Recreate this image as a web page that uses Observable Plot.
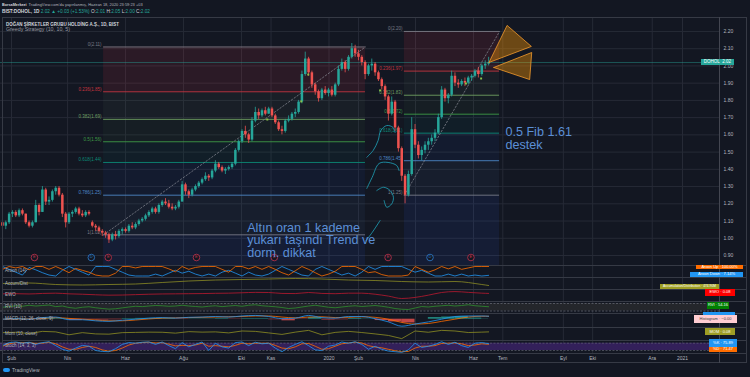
<!DOCTYPE html>
<html>
<head>
<meta charset="utf-8">
<script src="https://cdn.jsdelivr.net/npm/d3@7"></script>
<script src="https://cdn.jsdelivr.net/npm/@observablehq/plot@0.6"></script>
<style>
html,body{margin:0;padding:0;background:#131722;}
#root{position:relative;width:750px;height:377px;overflow:hidden;background:#131722;font-family:"Liberation Sans",Arial,sans-serif;}
#root svg{position:absolute;left:0;overflow:visible;}
.t{position:absolute;white-space:nowrap;line-height:1;}
</style>
</head>
<body>
<div id="root"></div>
<script>
// ---------- DATA ----------
const tickDates = ["2019-02-01","2019-04-01","2019-06-01","2019-08-01","2019-10-01","2019-11-01","2020-01-01","2020-02-01","2020-04-01","2020-06-01","2020-07-01","2020-09-01","2020-10-01","2020-12-01","2021-01-01"];
const tickLabels = ["Şub","Nis","Haz","Ağu","Eki","Kas","2020","Şub","Nis","Haz","Tem","Eyl","Eki","Ara","2021"];
const priceTicks = [0.9,1.0,1.1,1.2,1.3,1.4,1.5,1.6,1.7,1.8,1.9,2.0,2.1,2.2];

// half-week candles, Jan 2019 .. 18 Jun 2020
const opens = [1.09,1.07,1.09,1.14,1.15,1.13,1.16,1.14,1.09,1.07, 1.09,1.19,1.15,1.28,1.21,1.22,1.27,1.29,1.25,1.14,
 1.09,1.14,1.15,1.17,1.14,1.13,1.15,1.09,1.07,1.06, 1.04,1.03,1.02,0.99,1.02,1.01,1.04,1.05,1.04,1.07,
 1.06,1.08,1.10,1.11,1.13,1.15,1.17,1.15,1.19,1.21, 1.20,1.18,1.17,1.18,1.21,1.31,1.27,1.25,1.28,1.30,
 1.32,1.34,1.36,1.35,1.39,1.43,1.41,1.39,1.40,1.41, 1.43,1.51,1.56,1.62,1.60,1.57,1.68,1.73,1.71,1.74,
 1.72,1.75,1.71,1.67,1.63,1.62,1.68,1.69,1.72,1.73, 1.79,1.95,2.04,1.96,1.89,1.85,1.81,1.86,1.84,1.86,
 1.83,1.89,1.98,2.02,1.98,2.05,2.10,2.07,2.05,2.02, 1.95,2.00,2.01,1.96,1.92,1.88,1.82,1.72,1.79,1.64,
 1.52,1.36,1.25,1.37,1.63,1.54,1.48,1.51,1.54,1.56, 1.58,1.61,1.70,1.86,1.81,1.83,1.94,1.90,1.89,1.91,
 1.90,1.93,1.94,1.97,1.95,2.00,2.01];
const highs = [1.11,1.10,1.15,1.16,1.16,1.17,1.17,1.14,1.10,1.10, 1.22,1.20,1.30,1.29,1.24,1.28,1.30,1.30,1.26,1.15,
 1.15,1.16,1.18,1.18,1.16,1.16,1.16,1.10,1.08,1.07, 1.05,1.04,1.03,1.03,1.04,1.05,1.06,1.06,1.08,1.09,
 1.09,1.11,1.12,1.14,1.16,1.18,1.18,1.20,1.22,1.23, 1.22,1.20,1.19,1.22,1.33,1.32,1.28,1.29,1.31,1.33,
 1.35,1.38,1.37,1.40,1.45,1.44,1.42,1.41,1.42,1.44, 1.52,1.57,1.63,1.65,1.61,1.70,1.76,1.75,1.75,1.76,
 1.76,1.76,1.72,1.68,1.65,1.69,1.71,1.73,1.75,1.80, 1.97,2.08,2.05,1.97,1.90,1.86,1.87,1.88,1.87,1.88,
 1.90,2.00,2.04,2.03,2.06,2.13,2.12,2.09,2.06,2.03, 2.01,2.04,2.02,1.97,1.93,1.89,1.83,1.82,1.80,1.65,
 1.53,1.37,1.39,1.70,1.66,1.56,1.53,1.56,1.58,1.60, 1.63,1.72,1.88,1.87,1.84,1.97,1.96,1.92,1.92,1.93,
 1.94,1.95,1.98,1.99,2.01,2.03,2.05];
const lows = [1.05,1.05,1.08,1.12,1.12,1.12,1.13,1.08,1.06,1.06, 1.09,1.13,1.15,1.19,1.19,1.21,1.25,1.24,1.12,1.06,
 1.08,1.12,1.14,1.13,1.12,1.12,1.13,1.06,1.04,1.03, 1.01,1.00,0.97,0.98,0.99,1.00,1.02,1.03,1.03,1.05,
 1.05,1.07,1.09,1.10,1.12,1.14,1.14,1.14,1.18,1.19, 1.17,1.16,1.16,1.17,1.21,1.25,1.23,1.24,1.27,1.29,
 1.31,1.33,1.33,1.34,1.38,1.40,1.38,1.37,1.39,1.40, 1.42,1.50,1.55,1.58,1.55,1.56,1.67,1.69,1.70,1.71,
 1.72,1.70,1.66,1.62,1.60,1.61,1.67,1.68,1.70,1.72, 1.78,1.94,1.94,1.87,1.83,1.79,1.80,1.83,1.82,1.82,
 1.82,1.88,1.97,1.96,1.97,2.04,2.05,2.03,2.00,1.92, 1.94,1.97,1.94,1.91,1.86,1.80,1.68,1.71,1.62,1.50,
 1.33,1.20,1.24,1.36,1.52,1.46,1.45,1.49,1.51,1.54, 1.56,1.60,1.69,1.79,1.78,1.82,1.88,1.87,1.88,1.88,
 1.89,1.91,1.93,1.93,1.94,1.98,2.00];
const closes = [1.07,1.09,1.14,1.15,1.13,1.16,1.14,1.09,1.07,1.09, 1.19,1.15,1.28,1.21,1.22,1.27,1.29,1.25,1.14,1.09,
 1.14,1.15,1.17,1.14,1.13,1.15,1.14,1.07,1.06,1.04, 1.03,1.02,0.99,1.02,1.01,1.04,1.05,1.04,1.07,1.06,
 1.08,1.10,1.11,1.13,1.15,1.17,1.15,1.19,1.21,1.20, 1.18,1.17,1.18,1.21,1.31,1.27,1.25,1.28,1.30,1.32,
 1.34,1.36,1.35,1.39,1.43,1.41,1.39,1.40,1.41,1.43, 1.51,1.56,1.62,1.60,1.57,1.68,1.73,1.71,1.74,1.72,
 1.75,1.71,1.67,1.63,1.62,1.68,1.69,1.72,1.73,1.79, 1.95,2.04,1.96,1.89,1.85,1.81,1.86,1.84,1.86,1.83,
 1.89,1.98,2.02,1.98,2.05,2.10,2.07,2.05,2.02,1.95, 2.00,2.01,1.96,1.92,1.88,1.82,1.72,1.79,1.64,1.52,
 1.36,1.25,1.37,1.63,1.54,1.48,1.51,1.54,1.56,1.58, 1.61,1.70,1.86,1.81,1.83,1.94,1.90,1.89,1.91,1.90,
 1.93,1.94,1.97,1.95,2.00,2.01,2.02];

// Fibonacci retracements
const fibRatios = [0, 0.236, 0.382, 0.5, 0.618, 0.786, 1];
const fib1Prices = [2.11, 1.85, 1.69, 1.56, 1.44, 1.25, 1.02];
const fib2Prices = [2.20, 1.97, 1.83, 1.72, 1.61, 1.45, 1.25];
const fib1Bars = [30.4, 109.1];
const fib2Bars = [120.8, 149.2];

// drawings (bar index, price)
const tri1 = [[146.1,2.02],[151.4,2.235],[158.5,2.113]];
const tri2 = [[147.5,1.991],[158.6,2.078],[158.0,1.921]];
const brushCurves = [
  [[109.5,1.470],[111.4,1.509],[112.9,1.567],[113.7,1.625],[115.5,1.654],[117.4,1.643],[118.0,1.614]],
  [[109.5,1.289],[111.1,1.353],[113.2,1.434],[115.9,1.440],[118.5,1.422],[119.2,1.393]],
  [[112.5,1.277],[114.5,1.296],[116.5,1.277],[117.5,1.238],[117.0,1.200],[115.5,1.180],[114.7,1.219]],
  [[109.3,0.987],[111.1,1.033],[113.5,1.103]]
];
const signalBars = [79.6, 89.8, 91.9, 113.5, 139.3, 143.8];
const signalPrices = [1.689, 1.794, 1.950, 1.858, 1.898, 1.927];
const eventBars = [9.6, 26.7, 31.8, 58.3, 81.7, 115.9, 128.5, 140.8];
const eventKinds = ["E","D","E","E","E","E","D","E"];
const notes = [
  {b: 73.55, p: 1.090, text: "Altın oran 1 kademe\nyukarı taşındı Trend ve\ndorm. dikkat"},
  {b: 150.9, p: 1.643, text: "0.5 Fib 1.61\ndestek"}
];
const lastPrice = 2.02;

// indicators
const aroonUp = [70,100,85,100,65,100,100,70,100,70, 35,80,60,40,10,0,0,30,100,100,
 85,100,100,100,100,75,45,100,70,90, 100,100,100,70,40,100,100,75,100,70,
 100,70,35,10,55,100,70,35,0,20, 50,100,100,100,70,35,45,15,0,0,
 0,10,100,70,40,65,100,75,100,70, 85,100,100,100];
const aroonDown = [100,70,40,10,90,65,35,10,0,60, 100,70,40,10,100,100,100,70,40,10,
 0,0,0,20,0,30,60,30,50,20, 0,20,0,40,60,30,0,40,10,0,
 20,60,100,70,40,10,0,70,100,70, 40,10,30,0,40,100,70,100,100,100,
 100,70,40,60,30,0,0,20,0,20, 0,10,0,7];
const accDist = [420,430,400,390,400,410,440,470,490,500,510,520,510,490,480,460,450,460,400,380];
const ewo = [0.05,0.06,0.04,0.08,0.10,0.05,0.02,-0.02,-0.05,-0.04, -0.01,0.02,0.04,0.05,0.06,0.07,0.09,0.10,0.13,0.16,
 0.15,0.08,0.07,0.15,0.08,0.06,0.10,0.10,0.02,-0.12, -0.30,-0.22,-0.05,0.15,0.22,0.16,0.10,0.08];
const rvi = [50,55,62,58,66,60,64,68,55,60, 48,42,50,54,46,40,35,38,45,52, 58,55,60,64,62,58,60,66,60,56,
 52,58,62,55,60,64,58,66,70,62, 58,54,48,40,44,52,60,66,58,50, 46,52,58,62,56,60,64,58,50,40,
 34,32,44,56,52,58,62,66,60,64, 70,62,58,54];
const macdLine = [0.00,0.01,0.00,0.03,0.04,-0.01,-0.01,-0.03,-0.04,-0.02, 0.00,0.02,0.03,0.02,0.035,0.04,0.05,0.04,0.06,0.07,
 0.05,0.01,0.02,0.07,0.03,0.02,0.05,0.05,0.01,-0.05, -0.13,-0.09,-0.05,0.00,0.05,0.06,0.06,0.055];
const macdSignal = [0.00,0.005,0.005,0.015,0.03,0.015,0.00,-0.015,-0.03,-0.03, -0.015,0.005,0.02,0.025,0.03,0.035,0.04,0.045,0.05,0.06,
 0.06,0.04,0.025,0.04,0.045,0.03,0.035,0.045,0.035,0.00, -0.06,-0.09,-0.08,-0.04,0.00,0.04,0.055,0.055];
const macdHist = [0,0.005,-0.005,0.015,0.01,-0.025,-0.01,-0.015,-0.01,0.01, 0.015,0.015,0.01,-0.005,0.005,0.005,0.01,-0.005,0.01,0.01,
 -0.01,-0.03,-0.005,0.03,-0.015,-0.01,0.015,0.005,-0.025,-0.05, -0.07,0,0.03,0.04,0.05,0.02,0.005,0];
const mom = [0.02,0.05,-0.05,0.12,0.08,-0.15,0.02,-0.08,-0.10,0.02, 0.04,0.06,0.05,-0.02,0.10,0.06,0.08,0.00,0.15,0.12,
 0.00,-0.12,0.06,0.20,-0.15,0.04,0.12,0.03,-0.08,-0.20, -0.45,0.15,0.05,0.20,0.15,0.03,0.06,0.08];
const stochK = [60,85,90,80,88,70,85,92,60,30, 15,40,62,55,20,12,10,35,70,85, 80,88,90,70,90,60,35,85,50,70,
 90,20,80,50,40,85,90,60,88,75, 80,40,10,45,70,92,60,25,20,55, 65,90,80,92,70,30,55,30,15,10,
 5,25,80,45,55,70,92,70,88,60, 45,80,85,76];
const stochD = [55,75,85,85,85,78,80,88,75,50, 30,30,45,55,45,25,14,20,40,65, 80,85,88,82,84,72,58,62,60,65,
 80,55,60,55,50,62,80,75,80,80, 80,62,40,35,50,75,78,55,30,35, 55,75,82,88,82,60,48,42,30,18,
 10,12,40,55,55,60,78,80,82,75, 60,65,75,71];

// ---------- HELPERS ----------
const root = document.getElementById("root");
const FONT = '"Liberation Sans",Arial,sans-serif';
const T0 = Date.UTC(2019,0,22,12);
const barDate = b => new Date(T0 + b*3.5*864e5);
const tickD = tickDates.map(s => new Date(s));
const xOpts = () => ({type:"utc", domain:[new Date("2019-02-01"), new Date("2020-06-01"), new Date("2021-01-01")], range:[11,473,682], axis:null});
const UP = "#26a69a", DN = "#ef5350", GRID = "#262a36";
const s2 = d3.range(0, 147, 2);
const s4 = d3.range(0, 145, 4).concat([146]);
const s8 = d3.range(0, 145, 8).concat([146]);

function place(svg, top){ svg.style.top = top + "px"; root.appendChild(svg); return svg; }
function div(html, css){ const d = document.createElement("div"); d.className = "t"; d.innerHTML = html; d.style.cssText += css; root.appendChild(d); return d; }

// ---------- MAIN PRICE PANE ----------
const bars = closes.map((c,i)=>({d: barDate(i), o: opens[i], h: highs[i], l: lows[i], c}));
const upBars = bars.filter(b => b.c >= b.o), dnBars = bars.filter(b => b.c < b.o);
const lineColors = ["#787b86","#c4343f","#6f9f62","#3f9a46","#0b8a76","#4d86c6","#787b86"];
const bandColors = ["rgba(242,54,69,0.11)","rgba(129,199,132,0.05)","rgba(76,175,80,0.05)","rgba(8,153,129,0.06)","rgba(41,98,255,0.06)","rgba(100,181,246,0.05)"];
const extColor = "rgba(41,98,255,0.09)";
const yDomain = [0.842, 2.281];
function fibLevels(prices, span){ return prices.map((p,k)=>({x1: barDate(span[0]), x2: barDate(span[1]), p, color: lineColors[k], label: `${fibRatios[k]}(${p.toFixed(2)})`})); }
function fibBands(prices, span){
  const out = [];
  for (let k = 0; k < 6; k++) out.push({x1: barDate(span[0]), x2: barDate(span[1]), y1: prices[k], y2: prices[k+1], fill: bandColors[k]});
  out.push({x1: barDate(span[0]), x2: barDate(span[1]), y1: prices[6], y2: yDomain[0], fill: extColor});
  return out;
}
const levels = fibLevels(fib1Prices, fib1Bars).concat(fibLevels(fib2Prices, fib2Bars));
const bands = fibBands(fib1Prices, fib1Bars).concat(fibBands(fib2Prices, fib2Bars));
const trends = [
  {id:1, d: barDate(fib1Bars[0]), p: fib1Prices[6]}, {id:1, d: barDate(fib1Bars[1]), p: fib1Prices[0]},
  {id:2, d: barDate(fib2Bars[0]), p: fib2Prices[6]}, {id:2, d: barDate(fib2Bars[1]), p: fib2Prices[0]}
];
const tris = [];
[tri1, tri2].forEach((t,j)=> t.concat([t[0]]).forEach(([b,p]) => tris.push({id:j, d: barDate(b), p})));
const curves = [];
brushCurves.forEach((c,j)=> c.forEach(([b,p]) => curves.push({id:j, d: barDate(b), p})));
const signals = signalBars.map((b,i)=>({d: barDate(b), p: signalPrices[i]}));
const events = eventBars.map((b,i)=>({d: barDate(b), k: eventKinds[i], color: eventKinds[i]==="E" ? "#c2344e" : "#2f7fd0"}));

const main = Plot.plot({
  width: 750, height: 248, marginLeft: 0, marginRight: 31, marginTop: 0, marginBottom: 0,
  style: {background: "transparent", fontFamily: FONT, overflow: "visible"},
  x: xOpts(), y: {domain: yDomain, axis: null}, color: {type: "identity"},
  marks: [
    Plot.ruleX(tickD, {stroke: GRID}),
    Plot.ruleY(priceTicks, {stroke: GRID}),
    Plot.rect(bands, {x1: "x1", x2: "x2", y1: "y1", y2: "y2", fill: "fill"}),
    Plot.ruleY(levels, {x1: "x1", x2: "x2", y: "p", stroke: "color", strokeWidth: 0.9}),
    Plot.text(levels, {x: "x1", y: "p", text: "label", textAnchor: "end", dx: -2, dy: -2.5, fill: "color", fontSize: 4.5}),
    Plot.ruleY([lastPrice], {stroke: "#26a69a", strokeOpacity: 0.55, strokeWidth: 0.8}),
    Plot.line(trends, {x: "d", y: "p", z: "id", stroke: "#8a8d96", strokeDasharray: "1.5,2", strokeWidth: 0.7}),
    Plot.ruleX(upBars, {x: "d", y1: "l", y2: "h", stroke: UP, strokeWidth: 0.8}),
    Plot.ruleX(dnBars, {x: "d", y1: "l", y2: "h", stroke: DN, strokeWidth: 0.8}),
    Plot.ruleX(upBars, {x: "d", y1: "o", y2: "c", stroke: UP, strokeWidth: 2.5}),
    Plot.ruleX(dnBars, {x: "d", y1: "o", y2: "c", stroke: DN, strokeWidth: 2.5}),
    Plot.dot(signals, {x: "d", y: "p", symbol: "square", r: 1.1, fill: "#8bc34a"}),
    Plot.dot(events, {x: "d", frameAnchor: "bottom", dy: -8, r: 3.3, stroke: "color", fill: "#131722", strokeWidth: 0.8}),
    Plot.text(events, {x: "d", frameAnchor: "bottom", dy: -8, text: "k", fill: "color", fontSize: 4}),
    Plot.line(tris, {x: "d", y: "p", z: "id", fill: "rgba(255,152,0,0.38)", stroke: "#f39a2c", strokeWidth: 0.8}),
    Plot.line(curves, {x: "d", y: "p", z: "id", curve: "catmull-rom", stroke: "#1fa6bd", strokeWidth: 0.8}),
    Plot.text(notes, {x: d => barDate(d.b), y: "p", text: "text", textAnchor: "start", lineAnchor: "top", lineHeight: 1.0, fontSize: 12.6, fill: "#5b8fd6"}),
    Plot.axisY(priceTicks, {anchor: "right", tickSize: 0, tickPadding: 4, tickFormat: d => d.toFixed(2), fill: "#b2b5be", fontSize: 5, label: null})
  ]
});
place(main, 17);

// ---------- INDICATOR PANES ----------
function pane(top, height, yDomainP, yRange, marks){
  const p = Plot.plot({
    width: 750, height, marginLeft: 0, marginRight: 31, marginTop: 0, marginBottom: 0,
    style: {background: "transparent", fontFamily: FONT, overflow: "visible"},
    x: xOpts(), y: {domain: yDomainP, range: yRange, axis: null}, color: {type: "identity"},
    marks: [Plot.ruleX(tickD, {stroke: GRID}), ...marks]
  });
  return place(p, top);
}
const at = (samples) => (d, i) => barDate(samples[i]);

pane(265, 12, [0, 100], [10.5, 1], [
  Plot.line(aroonDown, {x: at(s2), y: d => d, stroke: "#2196f3", strokeWidth: 0.8}),
  Plot.line(aroonUp, {x: at(s2), y: d => d, stroke: "#ff6d00", strokeWidth: 0.8})
]);
pane(277, 12, [300, 540], [12, 0], [
  Plot.line(accDist, {x: at(s8), y: d => d, stroke: "#8c8c24", strokeWidth: 0.8, curve: "monotone-x"})
]);
pane(289, 12, [-0.3, 0.3], [9, 1], [
  Plot.line(ewo, {x: at(s4), y: d => d, stroke: "#a8192e", strokeWidth: 0.9, curve: "monotone-x"})
]);
pane(301, 12, [20, 80], [9.5, 2], [
  Plot.rect([0], {y1: 20, y2: 80, fill: "#24262b"}),
  Plot.ruleY([20, 80], {stroke: "#6a6d78", strokeDasharray: "2,1.5", strokeWidth: 0.7}),
  Plot.line(rvi, {x: at(s2), y: d => d, stroke: "#2e8f2e", strokeWidth: 0.8})
]);
pane(313, 14, [-0.1, 0.1], [11.08, 0.32], [
  Plot.rect(macdHist, {x1: at(s4), x2: (d, i) => barDate(i + 1 < s4.length ? s4[i + 1] : 148), y1: 0, y2: d => d, fill: d => d >= 0 ? "#26a69a" : "#ef5350", fillOpacity: 0.8}),
  Plot.line(macdSignal, {x: at(s4), y: d => d, stroke: "#ff6d00", strokeWidth: 0.8, curve: "monotone-x"}),
  Plot.line(macdLine, {x: at(s4), y: d => d, stroke: "#2196f3", strokeWidth: 0.8, curve: "monotone-x"})
]);
pane(327, 13, [-0.4, 0.4], [10.48, 0.32], [
  Plot.line(mom, {x: at(s4), y: d => d, stroke: "#8f8f22", strokeWidth: 0.8})
]);
pane(340, 13, [20, 80], [10, 2.7], [
  Plot.rect([0], {y1: 20, y2: 80, fill: "#33205a"}),
  Plot.ruleY([20, 80], {stroke: "#6a6d78", strokeDasharray: "2,1.5", strokeWidth: 0.6}),
  Plot.line(stochD, {x: at(s2), y: d => d, stroke: "#ff6d00", strokeWidth: 0.8}),
  Plot.line(stochK, {x: at(s2), y: d => d, stroke: "#2196f3", strokeWidth: 0.8})
]);

// time axis
place(Plot.plot({
  width: 750, height: 10, marginLeft: 0, marginRight: 31, marginTop: 0, marginBottom: 0,
  style: {background: "transparent", fontFamily: FONT, overflow: "visible"},
  x: xOpts(),
  marks: [Plot.text(tickLabels, {x: (d, i) => tickD[i], text: d => d, fill: "#b2b5be", fontSize: 5})]
}), 353);

// ---------- FRAME / SEPARATORS ----------
[265, 277, 289, 301, 313, 327, 340, 353].forEach(y => div("", `left:2px;top:${y}px;width:745px;height:1px;background:#363a45;`));
div("", "left:2px;top:17px;width:745px;height:346px;border:1px solid #363a45;box-sizing:border-box;");
div("", "left:719px;top:17px;width:1px;height:346px;background:#434651;");

// ---------- HEADER (svg text, fitted widths) ----------
const TEAL = "#26a69a";
const hdr = d3.create("svg").attr("width", 750).attr("height", 36).style("top", "0px").style("font-family", FONT);
function fitted(x, y, len, size, txt, attrs){
  const t = hdr.append("text").attr("x", x).attr("y", y).attr("font-size", size).attr("textLength", len).attr("lengthAdjust", "spacingAndGlyphs").text(txt);
  Object.entries(attrs).forEach(([k,v]) => t.attr(k, v));
  return t;
}
fitted(2, 5.9, 24.5, 3.75, "BorsaMerkezi", {"font-weight": "bold", fill: "#d1d4dc"});
fitted(28.6, 5.9, 114, 3.9, "TradingView.com'da yayınlanmış, Haziran 18, 2020 23:59:23 +03", {fill: "#b2b5be"});
const l2 = hdr.append("text").attr("x", 2).attr("y", 12.6).attr("font-size", 4.8).attr("fill", "#d1d4dc").attr("textLength", 148).attr("lengthAdjust", "spacingAndGlyphs");
l2.append("tspan").attr("font-weight", "bold").text("BIST:DOHOL, 1D");
l2.append("tspan").attr("fill", TEAL).text(" 2.02 ▲ +0.03 (+1.53%)");
[["O:", "2.01"], ["H:", "2.05"], ["L:", "2.00"], ["C:", "2.02"]].forEach(([k, v]) => {
  l2.append("tspan").text(" " + k);
  l2.append("tspan").attr("fill", TEAL).text(v);
});
fitted(6, 25.6, 113, 4.45, "DOĞAN ŞİRKETLER GRUBU HOLDİNG A.Ş., 1D, BIST", {"font-weight": "bold", fill: "#d1d4dc"});
fitted(6, 31.2, 64, 4.6, "Greedy Strategy (10, 10, 5)", {fill: "#9598a1"});
root.appendChild(hdr.node());

const paneTitles = ["Aroon (14)","Accum/Dist","EWO","RVI (10)","MACD (12, 26, close, 9)","Mom (10, close)","Stoch (14, 3, 3)"];
const titleY = [271.5, 284, 295, 307, 319.3, 334, 346.7];
paneTitles.forEach((t,i)=> div(t, `left:5px;top:${titleY[i]-2.3}px;font-size:4.5px;color:#b2b5be;`));

// price label on the axis
const yPix = main.scale("y").apply(lastPrice) + 17;
div(`DOHOL&nbsp;&nbsp;2.02`, `left:701px;top:${yPix-3.3}px;width:33px;height:6.6px;background:${TEAL};color:#fff;font-size:4.5px;display:flex;align-items:center;justify-content:center;`);

// indicator value boxes
const boxes = [
  ["Aroon Up&nbsp;·&nbsp;100.00%", 696, 264.7, 47, 4.8, "#ff6d00", "#fff", 4],
  ["Aroon Down&nbsp;·&nbsp;7.14%", 690, 271.7, 53, 5, "#2196f3", "#fff", 4],
  ["Accumulation/Distribution&nbsp;·&nbsp;474.90M", 660, 284, 59, 5, "#9f9f24", "#fff", 3.3],
  ["EWO&nbsp;·&nbsp;0.08", 705, 289.3, 30, 6.4, "#ff0000", "#fff", 4],
  ["RVI&nbsp;·&nbsp;54.16", 707, 301.7, 22, 7.6, "#008000", "#fff", 4],
  ["", 703, 311.7, 32, 3.3, "#2196f3", "#fff", 4],
  ["Histogram&nbsp;·&nbsp;−0.00", 694, 315, 43, 7.7, "#ffcdd2", "#3a3a3a", 4],
  ["MOM&nbsp;·&nbsp;0.08", 705, 328, 30, 7.3, "#9e9d24", "#fff", 4],
  ["%K&nbsp;·&nbsp;75.89", 709, 339.3, 28, 7.4, "#2196f3", "#fff", 4],
  ["%D&nbsp;·&nbsp;71.47", 709, 346.7, 28, 5.6, "#ff6d00", "#fff", 4]
];
boxes.forEach(([t,x,y,w,h,bg,c,fs]) => div(t, `left:${x}px;top:${y}px;width:${w}px;height:${h}px;background:${bg};color:${c};font-size:${fs}px;display:flex;align-items:center;justify-content:center;overflow:hidden;`));

// footer
div(`<span style="display:inline-block;width:7px;height:4px;background:#2196f3;border-radius:2px;margin-right:2px;vertical-align:middle"></span>TradingView`, "left:3px;top:367.5px;font-size:5px;color:#b2b5be;");
</script>
</body>
</html>
